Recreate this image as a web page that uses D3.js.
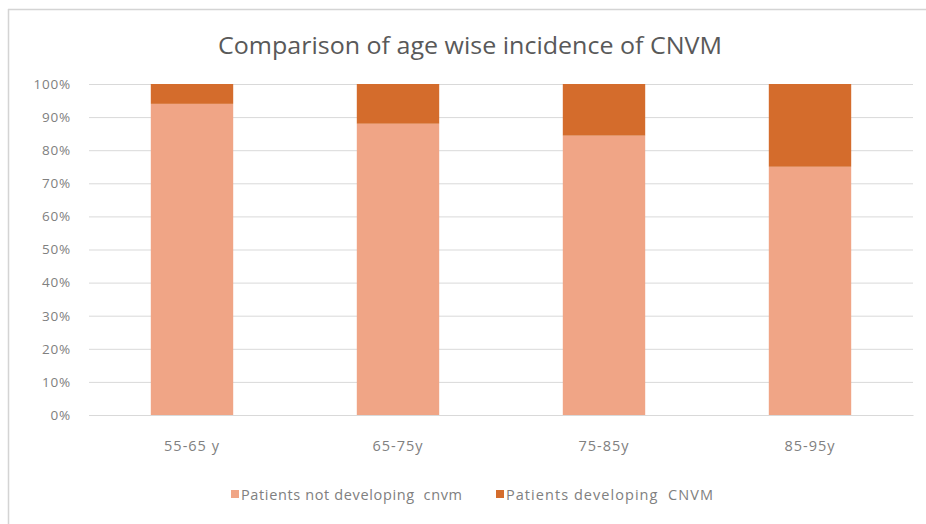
<!DOCTYPE html>
<html>
<head>
<meta charset="utf-8">
<script src="https://cdn.jsdelivr.net/npm/d3@7"></script>
<style>
  html, body { margin: 0; padding: 0; background: #fff; }
  svg { display: block; }
</style>
</head>
<body>
<svg id="chart" width="926" height="524"></svg>
<script>
// Age groups and the share of patients in each outcome (percent)
const categories = ["55-65 y", "65-75y", "75-85y", "85-95y"];
const notDeveloping = [94, 88, 84.4, 75];
const developing = [6, 12, 15.6, 25];
const seriesNames = ["Patients not developing  cnvm", "Patients developing  CNVM"];
const yTicks = [0, 10, 20, 30, 40, 50, 60, 70, 80, 90, 100];

const colors = ["#F0A586", "#D46C2C"];
const textColor = "#808080";
const gridColor = "#d9d9d9";
const font = "'Open Sans', 'Liberation Sans', sans-serif";

const svg = d3.select("#chart");
const W = 926, H = 524;
const plot = { left: 89, right: 913, top: 84, bottom: 415 };

// Chart frame
svg.append("rect").attr("x", 0).attr("y", 0).attr("width", W).attr("height", H).attr("fill", "#fff");
svg.append("line").attr("x1", 8.5).attr("x2", 8.5).attr("y1", 9).attr("y2", H)
  .attr("stroke", "#d4d4d4").attr("stroke-width", 1.5);
svg.append("line").attr("x1", 8).attr("x2", W).attr("y1", 9.5).attr("y2", 9.5)
  .attr("stroke", "#d4d4d4").attr("stroke-width", 1.5);

// Title
svg.append("text")
  .attr("x", 470).attr("y", 54)
  .attr("text-anchor", "middle")
  .attr("font-family", font)
  .attr("font-size", 23)
  .attr("fill", "#595959")
  .attr("textLength", 504)
  .attr("lengthAdjust", "spacingAndGlyphs")
  .text("Comparison of age wise incidence of CNVM");

const x = d3.scaleBand()
  .domain(categories)
  .range([plot.left, plot.right])
  .paddingInner(0.6)
  .paddingOuter(0.3);

const y = d3.scaleLinear().domain([0, 100]).range([plot.bottom, plot.top]);

// Gridlines and y-axis labels
const yAxis = d3.axisLeft(y)
  .tickValues(yTicks)
  .tickSize(-(plot.right - plot.left))
  .tickPadding(18)
  .tickFormat(d => d + "%");

const gy = svg.append("g")
  .attr("transform", `translate(${plot.left},0)`)
  .call(yAxis);
gy.select(".domain").remove();
gy.selectAll(".tick line").attr("stroke", gridColor).attr("stroke-width", 1);
gy.selectAll(".tick text")
  .attr("font-family", font).attr("font-size", 13.5).attr("fill", textColor)
  .attr("letter-spacing", 0.8);

// Stacked bars
const rows = categories.map((c, i) => ({ cat: c, a: notDeveloping[i], b: developing[i] }));
const stack = d3.stack().keys(["a", "b"])(rows);

svg.append("g").selectAll("g")
  .data(stack)
  .join("g")
  .attr("fill", (d, i) => colors[i])
  .selectAll("rect")
  .data(d => d)
  .join("rect")
  .attr("x", d => x(d.data.cat))
  .attr("width", x.bandwidth())
  .attr("y", d => y(d[1]))
  .attr("height", d => y(d[0]) - y(d[1]));

// Category axis
const xAxis = d3.axisBottom(x).tickSize(0).tickPadding(26);
const gx = svg.append("g")
  .attr("transform", `translate(0,${plot.bottom})`)
  .call(xAxis);
gx.select(".domain").attr("stroke", gridColor).attr("stroke-width", 1.2);
gx.selectAll(".tick text")
  .attr("font-family", font).attr("font-size", 14.5).attr("fill", textColor)
  .attr("letter-spacing", 1);

// Legend
const legendItems = [
  { name: seriesNames[0], color: colors[0], x: 231, len: 221 },
  { name: seriesNames[1], color: colors[1], x: 496, len: 207 }
];
const lg = svg.append("g").selectAll("g")
  .data(legendItems)
  .join("g")
  .attr("transform", d => `translate(${d.x},490)`);
lg.append("rect").attr("width", 8).attr("height", 8).attr("fill", d => d.color);
lg.append("text")
  .attr("x", 10).attr("y", 9.5)
  .attr("font-family", font).attr("font-size", 14.5).attr("fill", textColor)
  .attr("textLength", d => d.len)
  .attr("lengthAdjust", "spacing")
  .style("white-space", "pre")
  .text(d => d.name);
</script>
</body>
</html>
